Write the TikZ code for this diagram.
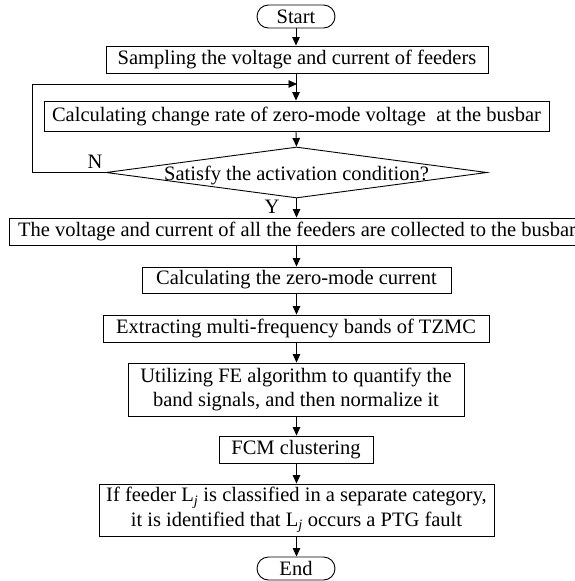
\documentclass[tikz,border=0pt]{standalone}
\usepackage{fontspec}
\setmainfont{Liberation Serif}
\usetikzlibrary{arrows.meta,shapes.geometric}
\newcommand{\flowfont}{\fontsize{20.5}{24.5}\selectfont}
\tikzset{
  procbox/.style={draw, line width=0.9pt, inner sep=0pt, align=center, font=\flowfont},
  termbox/.style={draw, line width=0.9pt, inner sep=0pt, rounded corners=11.5pt, align=center, font=\flowfont},
  flowarrow/.style={line width=0.9pt, -{Triangle[length=8.5pt,width=7.5pt]}},
  flowline/.style={line width=0.9pt},
  lbl/.style={inner sep=0pt, font=\flowfont}
}
\begin{document}
\begin{tikzpicture}[x=1pt,y=-1pt]
\useasboundingbox (0,0) rectangle (575,581);
% terminals and boxes
\node[termbox, minimum width=78pt, minimum height=23pt] (start) at (296,16.5) {Start};
\node[procbox, minimum width=382pt, minimum height=27pt] (sample) at (297,59.5) {Sampling the voltage and current of feeders};
\node[procbox, minimum width=505pt, minimum height=30pt] (rate) at (296.5,116) {Calculating change rate of zero-mode voltage \ at the busbar};
% decision
\node[draw, line width=0.9pt, diamond, inner sep=0pt, minimum width=381pt, minimum height=51pt] (dec) at (296.5,172.5) {};
\node[lbl] (dectext) at (296.5,175) {Satisfy the activation condition?};
\node[procbox, minimum width=576pt, minimum height=27pt] (collect) at (297,231.5) {The voltage and current of all the feeders are collected to the busbar};
\node[procbox, minimum width=309pt, minimum height=26pt] (zmc) at (296.5,280) {Calculating the zero-mode current};
\node[procbox, minimum width=386pt, minimum height=27pt] (extract) at (296,328.5) {Extracting multi-frequency bands of TZMC};
\node[procbox, minimum width=336pt, minimum height=53pt] (fe) at (296,389.5) {Utilizing FE algorithm to quantify the\\band signals, and then normalize it};
\node[procbox, minimum width=154pt, minimum height=27pt] (fcm) at (296,449.5) {FCM clustering};
\node[procbox, minimum width=395pt, minimum height=52pt] (iff) at (296.5,510) {If feeder L\textsubscript{\itshape j} is classified in a separate category,\\it is identified that L\textsubscript{\itshape j} occurs a PTG fault};
\node[termbox, minimum width=78pt, minimum height=23pt] (end) at (296,568.5) {End};
% labels
\node[lbl] (nlab) at (95,162) {N};
\node[lbl] (ylab) at (272,207) {Y};
% coordinates for the loop
\coordinate (loopa) at (32,172.5);
\coordinate (loopb) at (32,84);
\coordinate (loopc) at (297,84);
% connectors
\draw[flowarrow] (start.south) -- (start.south |- sample.north);
\draw[flowarrow] (sample.south -| start.south) -- (start.south |- rate.north);
\draw[flowarrow] (start.south |- rate.south) -- (dec.north);
\draw[flowarrow] (dec.south) -- (dec.south |- collect.north);
\draw[flowarrow] (dec.south |- collect.south) -- (dec.south |- zmc.north);
\draw[flowarrow] (dec.south |- zmc.south) -- (dec.south |- extract.north);
\draw[flowarrow] (dec.south |- extract.south) -- (dec.south |- fe.north);
\draw[flowarrow] (dec.south |- fe.south) -- (dec.south |- fcm.north);
\draw[flowarrow] (dec.south |- fcm.south) -- (dec.south |- iff.north);
\draw[flowarrow] (dec.south |- iff.south) -- (dec.south |- end.north);
\draw[flowarrow] (dec.west) -- (loopa) -- (loopb) -- (loopc);
\end{tikzpicture}
\end{document}
